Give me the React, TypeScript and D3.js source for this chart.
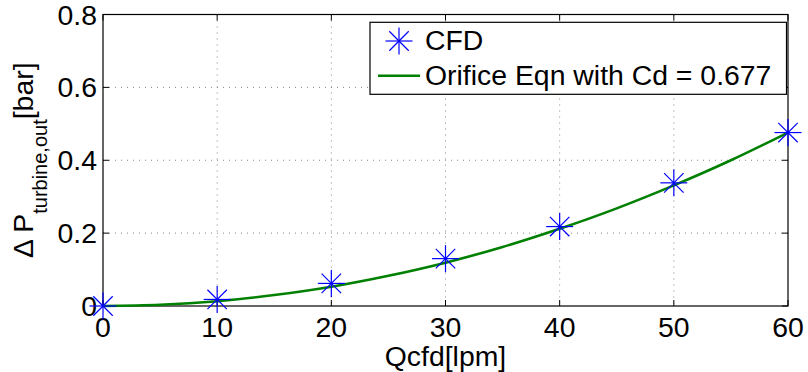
import React from "react";
import * as d3 from "d3";

const cfdQ = [0, 10, 20, 30, 40, 50, 60];
const cfdDP = [0, 0.018, 0.062, 0.13, 0.218, 0.338, 0.476];
const eqnQ = [0, 5, 10, 15, 20, 25, 30, 35, 40, 45, 50, 55, 60];
const eqnDP = [0, 0.0033, 0.013, 0.03, 0.053, 0.083, 0.119, 0.162, 0.212, 0.268, 0.331, 0.4, 0.476];
const xTicks = [0, 10, 20, 30, 40, 50, 60];
const yTicks = [0, 0.2, 0.4, 0.6, 0.8];
const legendLabels = ["CFD", "Orifice Eqn with Cd = 0.677"];

const W = 808, H = 372;
const M = { left: 103, right: 788, top: 14.5, bottom: 306 };
const FONT = "'Liberation Sans', Arial, Helvetica, sans-serif";
const FS = 28.4;

function Star({ x, y, r }: { x: number; y: number; r: number }) {
  const d = r * 0.72;
  return (
    <g stroke="#0000ff" strokeWidth={1.2}>
      <line x1={x - r} y1={y} x2={x + r} y2={y} />
      <line x1={x} y1={y - r} x2={x} y2={y + r} />
      <line x1={x - d} y1={y - d} x2={x + d} y2={y + d} />
      <line x1={x - d} y1={y + d} x2={x + d} y2={y - d} />
    </g>
  );
}

export default function App() {
  const x = d3.scaleLinear().domain([0, 60]).range([M.left, M.right]);
  const y = d3.scaleLinear().domain([0, 0.8]).range([M.bottom, M.top]);
  const line = d3
    .line<number>()
    .x((_, i) => x(eqnQ[i]))
    .y((d) => y(d))
    .curve(d3.curveMonotoneX);
  const tl = 6;
  return (
    <svg width={W} height={H} style={{ position: "absolute", left: 0, top: 0 }} fontFamily={FONT}>
      <rect width={W} height={H} fill="#fff" />
      {/* grid */}
      <g stroke="#666" strokeWidth={0.8} strokeDasharray="1,5">
        {xTicks.slice(1, -1).map((t) => (
          <line key={"gx" + t} x1={x(t)} x2={x(t)} y1={M.top} y2={M.bottom} />
        ))}
        {yTicks.slice(1, -1).map((t) => (
          <line key={"gy" + t} x1={M.left} x2={M.right} y1={y(t)} y2={y(t)} />
        ))}
      </g>
      {/* ticks */}
      <g stroke="#000" strokeWidth={1}>
        {xTicks.map((t) => (
          <g key={"tx" + t}>
            <line x1={x(t)} x2={x(t)} y1={M.bottom} y2={M.bottom - tl} />
            <line x1={x(t)} x2={x(t)} y1={M.top} y2={M.top + tl} />
          </g>
        ))}
        {yTicks.map((t) => (
          <g key={"ty" + t}>
            <line x1={M.left} x2={M.left + tl} y1={y(t)} y2={y(t)} />
            <line x1={M.right} x2={M.right - tl} y1={y(t)} y2={y(t)} />
          </g>
        ))}
      </g>
      <rect x={M.left} y={M.top} width={M.right - M.left} height={M.bottom - M.top} fill="none" stroke="#000" strokeWidth={1.2} />
      {/* tick labels */}
      <g fontSize={FS} fill="#000">
        {xTicks.map((t) => (
          <text key={"lx" + t} x={x(t)} y={337} textAnchor="middle">
            {t}
          </text>
        ))}
        {yTicks.map((t) => (
          <text key={"ly" + t} x={97} y={y(t) + 10} textAnchor="end">
            {t === 0 ? "0" : t.toFixed(1)}
          </text>
        ))}
      </g>
      {/* axis labels */}
      <text x={(M.left + M.right) / 2} y={366} textAnchor="middle" fontSize={FS} fill="#000">
        Qcfd[lpm]
      </text>
      <text transform={`translate(33,${(M.top + M.bottom) / 2}) rotate(-90)`} textAnchor="middle" fontSize={FS} fill="#000">
        <tspan>Δ P</tspan>
        <tspan fontSize={20} dy={14}>turbine,out</tspan>
        <tspan dy={-14}>[bar]</tspan>
      </text>
      {/* data */}
      <path d={line(eqnDP) || ""} fill="none" stroke="#008000" strokeWidth={2.6} />
      {cfdQ.map((q, i) => (
        <Star key={"s" + q} x={x(q)} y={y(cfdDP[i])} r={13.5} />
      ))}
      {/* legend */}
      <rect x={370} y={22.3} width={416.5} height={72} fill="#fff" stroke="#000" strokeWidth={1.2} />
      <Star x={399} y={41} r={13.5} />
      <text x={425} y={50} fontSize={FS} fill="#000">
        {legendLabels[0]}
      </text>
      <line x1={378} x2={420} y1={75.7} y2={75.7} stroke="#008000" strokeWidth={2.6} />
      <text x={425} y={85} fontSize={FS} fill="#000">
        {legendLabels[1]}
      </text>
    </svg>
  );
}
